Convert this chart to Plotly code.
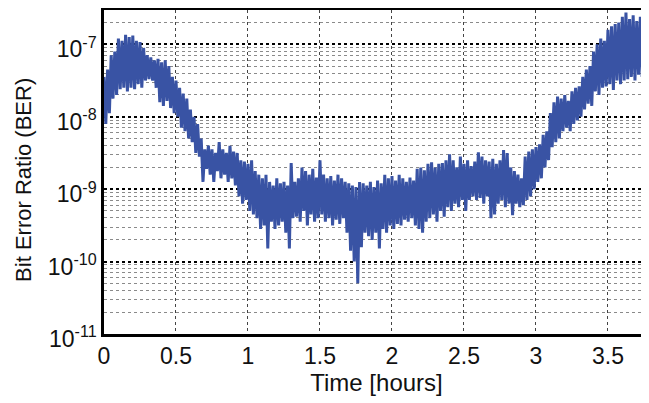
import plotly.graph_objects as go

# Time grid of the envelope samples [hours]
time_hours = [round(0.025 * i, 3) for i in range(152)]

# log10(BER) of the upper spikes of the trace
log_ber_high = [
    -7.45, -7.35, -7.15, -7.10, -6.92, -6.95, -6.87, -6.90, -6.88, -6.95,
    -6.97, -7.05, -7.15, -7.18, -7.22, -7.20, -7.25, -7.22, -7.30, -7.45,
    -7.50, -7.60, -7.68, -7.75, -7.90, -8.00, -8.10, -8.30, -8.45, -8.40,
    -8.45, -8.50, -8.35, -8.45, -8.50, -8.40, -8.48, -8.50, -8.60, -8.62,
    -8.65, -8.60, -8.75, -8.80, -8.85, -8.80, -8.90, -8.95, -8.85, -8.92,
    -8.90, -8.95, -8.64, -8.90, -8.85, -8.70, -8.75, -8.80, -8.72, -8.84,
    -8.60, -8.80, -8.85, -8.82, -8.88, -8.80, -8.85, -8.90, -8.92, -8.95,
    -8.97, -8.90, -8.92, -8.95, -8.90, -8.97, -8.88, -8.92, -8.80, -8.85,
    -8.82, -8.88, -8.80, -8.85, -8.90, -8.84, -8.88, -8.72, -8.70, -8.74,
    -8.65, -8.63, -8.70, -8.65, -8.64, -8.60, -8.52, -8.60, -8.70, -8.55,
    -8.65, -8.60, -8.68, -8.62, -8.49, -8.55, -8.60, -8.62, -8.58, -8.65,
    -8.60, -8.46, -8.50, -8.70, -8.75, -8.80, -8.85, -8.55, -8.48, -8.45,
    -8.42, -8.38, -8.25, -8.20, -7.95, -7.80, -7.72, -7.75, -7.70, -7.78,
    -7.65, -7.60, -7.58, -7.45, -7.35, -7.30, -7.10, -7.00, -6.92, -6.95,
    -6.80, -6.75, -6.72, -6.70, -6.62, -6.56, -6.65, -6.60, -6.68, -6.62,
    -6.70, -6.65,
]

# log10(BER) of the lower spikes of the trace
log_ber_low = [
    -8.10, -7.95, -7.75, -7.70, -7.62, -7.60, -7.65, -7.60, -7.62, -7.55,
    -7.60, -7.50, -7.48, -7.50, -7.60, -7.80, -7.85, -7.78, -7.88, -7.95,
    -8.00, -8.15, -8.20, -8.30, -8.35, -8.50, -8.55, -8.90, -8.72, -8.80,
    -8.90, -8.75, -8.85, -8.80, -8.90, -8.85, -8.95, -9.10, -9.20, -9.15,
    -9.30, -9.35, -9.40, -9.55, -9.50, -9.82, -9.45, -9.55, -9.50, -9.45,
    -9.60, -9.82, -9.40, -9.38, -9.45, -9.30, -9.50, -9.35, -9.45, -9.40,
    -9.35, -9.45, -9.40, -9.50, -9.42, -9.48, -9.40, -9.60, -9.85, -10.00,
    -10.30, -9.80, -9.60, -9.65, -9.70, -9.60, -9.82, -9.55, -9.60, -9.50,
    -9.55, -9.48, -9.50, -9.42, -9.45, -9.40, -9.50, -9.55, -9.60, -9.45,
    -9.40, -9.35, -9.45, -9.30, -9.38, -9.25, -9.30, -9.20, -9.25, -9.15,
    -9.30, -9.15, -9.10, -9.15, -9.12, -9.20, -9.10, -9.40, -9.35, -9.20,
    -9.15, -9.25, -9.20, -9.36, -9.20, -9.25, -9.22, -9.15, -9.10, -9.00,
    -8.90, -8.85, -8.70, -8.60, -8.42, -8.35, -8.30, -8.20, -8.15, -8.20,
    -8.10, -8.05, -8.00, -7.90, -7.82, -7.85, -7.65, -7.70, -7.60, -7.58,
    -7.55, -7.63, -7.50, -7.55, -7.50, -7.48, -7.45, -7.50, -7.42, -7.45,
    -7.40, -7.45,
]

y_decades = [-11, -10, -9, -8, -7]
y_tick_labels = ["10<sup>-11</sup>", "10<sup>-10</sup>", "10<sup>-9</sup>",
                 "10<sup>-8</sup>", "10<sup>-7</sup>"]
y_minor_multipliers = [2, 3, 4, 5, 6, 7, 8, 9]
x_tick_values = [0, 0.5, 1, 1.5, 2, 2.5, 3, 3.5]
x_tick_labels = ["0", "0.5", "1", "1.5", "2", "2.5", "3", "3.5"]
y_title = "Bit Error Ratio (BER)"

y_tick_values = [10.0 ** d for d in y_decades]
y_minor_values = [m * 10.0 ** d for d in y_decades for m in y_minor_multipliers]

# interleave upper and lower samples so the trace zig-zags like the measured signal
half_step = (time_hours[1] - time_hours[0]) / 2
trace_x, trace_y = [], []
for t, hi, lo in zip(time_hours, log_ber_high, log_ber_low):
    trace_x += [t, t + half_step]
    trace_y += [10 ** hi, 10 ** lo]

FONT = "Liberation Sans, Arial, Helvetica, sans-serif"
Y_RANGE = [-11, -6.526]

fig = go.Figure()
# empty trace so the base y axis (decade grid + labels) is drawn
fig.add_trace(go.Scatter(x=[], y=[], mode="lines", yaxis="y",
                         showlegend=False, hoverinfo="skip"))
# the data trace lives on the overlaying axis (which draws the minor grid)
fig.add_trace(go.Scatter(
    x=trace_x, y=trace_y, mode="lines", yaxis="y2",
    line=dict(color="#3953A4", width=3, simplify=False),
    showlegend=False, hoverinfo="skip",
))

# the page body has an 8 px margin, so the figure is drawn 8 px right/down
fig.update_layout(
    width=641, height=395,
    margin=dict(l=96, r=0, t=2, b=69),
    paper_bgcolor="white", plot_bgcolor="white",
    font=dict(family=FONT, size=22, color="#111111"),
    showlegend=False,
    xaxis=dict(
        range=[0, 3.785], automargin=False,
        tickvals=x_tick_values, ticktext=x_tick_labels,
        tickfont=dict(size=23),
        showgrid=True, gridcolor="#444444", griddash="dot", gridwidth=1,
        showline=True, linecolor="black", linewidth=2.5, mirror=True,
        zeroline=False, ticks="",
        title=dict(text="Time [hours]", font=dict(size=24), standoff=4),
    ),
    yaxis=dict(
        type="log", range=Y_RANGE, automargin=False,
        tickvals=y_tick_values, ticktext=y_tick_labels,
        tickfont=dict(size=23), ticklabelshift=5,
        showgrid=True, gridcolor="#000000", griddash="dot", gridwidth=1.8,
        showline=True, linecolor="black", linewidth=2.5,
        zeroline=False, ticks="",
    ),
    yaxis2=dict(
        type="log", range=Y_RANGE, overlaying="y", anchor="x", side="left",
        tickvals=y_minor_values, showticklabels=False, ticks="",
        showgrid=True, gridcolor="#8a8a8a", griddash="dot", gridwidth=1,
        showline=False, zeroline=False, automargin=False,
    ),
    annotations=[dict(
        text=y_title, textangle=-90, showarrow=False,
        xref="paper", yref="paper", x=-0.149, y=0.475,
        xanchor="center", yanchor="middle",
        font=dict(family=FONT, size=22, color="#111111"),
    )],
)

fig.write_html("out.html")
